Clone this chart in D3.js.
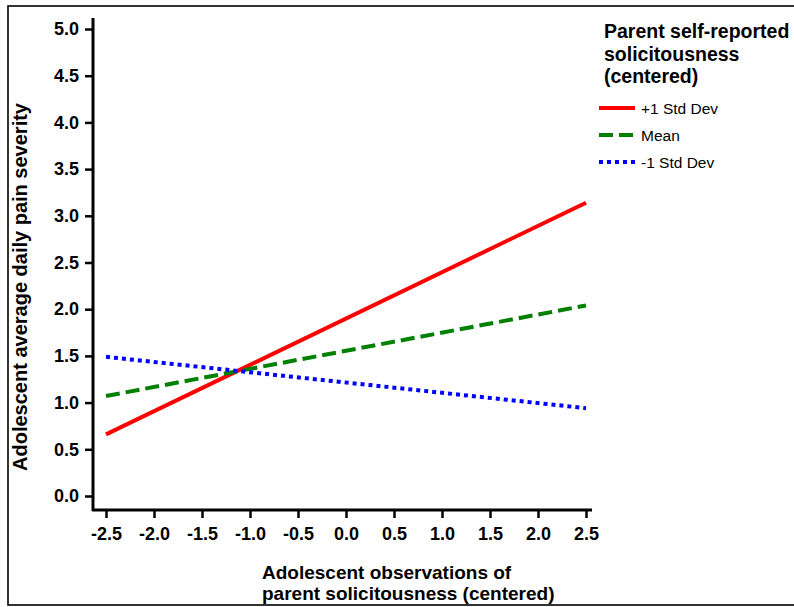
<!DOCTYPE html>
<html>
<head>
<meta charset="utf-8">
<script src="https://cdn.jsdelivr.net/npm/d3@7"></script>
<style>
  html, body { margin: 0; padding: 0; background: #fff; }
  svg { display: block; }
  text { font-family: "Liberation Sans", Arial, sans-serif; }
</style>
</head>
<body>
<svg id="chart" width="794" height="607"></svg>
<script>
// ---- data ----
const xEnds = [-2.5, 2.5];
const seriesNames = ["+1 Std Dev", "Mean", "-1 Std Dev"];
const plusOneSD = [0.66, 3.14];
const meanLine = [1.07, 2.04];
const minusOneSD = [1.49, 0.94];
const xTicks = [-2.5, -2.0, -1.5, -1.0, -0.5, 0.0, 0.5, 1.0, 1.5, 2.0, 2.5];
const yTicks = [0.0, 0.5, 1.0, 1.5, 2.0, 2.5, 3.0, 3.5, 4.0, 4.5, 5.0];
const legendTitle = ["Parent self-reported", "solicitousness", "(centered)"];
const xTitle = ["Adolescent observations of", "parent solicitousness (centered)"];
const yTitle = "Adolescent average daily pain severity";

const svg = d3.select("#chart");
const fmt = d => d.toFixed(1);

// frame
svg.append("rect").attr("x", 8).attr("y", 6).attr("width", 800).attr("height", 599)
  .attr("fill", "none").attr("stroke", "#000").attr("stroke-width", 1.6);

const x = d3.scaleLinear().domain([-2.5, 2.5]).range([106, 586]);
const y = d3.scaleLinear().domain([0, 5]).range([496, 29]);

// y axis
const yAxis = d3.axisLeft(y).tickValues(yTicks).tickFormat(fmt).tickSize(8).tickSizeOuter(0).tickPadding(6);
const gy = svg.append("g").attr("transform", "translate(93,0)").call(yAxis);
gy.select(".domain").remove();
gy.append("line").attr("x1", 0).attr("x2", 0).attr("y1", 18).attr("y2", 511)
  .attr("stroke", "#000").attr("stroke-width", 3);
gy.selectAll(".tick line").attr("stroke-width", 2.5);
gy.selectAll(".tick text").attr("font-size", 18).attr("font-weight", "bold").attr("fill", "#000")
  .attr("font-family", "'Liberation Sans', Arial, sans-serif");

// x axis
const xAxis = d3.axisBottom(x).tickValues(xTicks).tickFormat(fmt).tickSize(8).tickSizeOuter(0).tickPadding(9);
const gx = svg.append("g").attr("transform", "translate(0,510)").call(xAxis);
gx.select(".domain").remove();
gx.append("line").attr("x1", 92).attr("x2", 592).attr("y1", 0).attr("y2", 0)
  .attr("stroke", "#000").attr("stroke-width", 3);
gx.selectAll(".tick line").attr("stroke-width", 2.5);
gx.selectAll(".tick text").attr("font-size", 18).attr("font-weight", "bold").attr("fill", "#000")
  .attr("font-family", "'Liberation Sans', Arial, sans-serif");

// lines
const series = [
  { name: seriesNames[0], values: plusOneSD, color: "#ff0000", dash: null },
  { name: seriesNames[1], values: meanLine, color: "#008000", dash: "14,6" },
  { name: seriesNames[2], values: minusOneSD, color: "#0000ff", dash: "4,4" }
];
const line = d3.line().x(d => x(d[0])).y(d => y(d[1]));
series.forEach(s => {
  svg.append("path")
    .datum(xEnds.map((xv, i) => [xv, s.values[i]]))
    .attr("d", line)
    .attr("fill", "none")
    .attr("stroke", s.color)
    .attr("stroke-width", 4)
    .attr("stroke-dasharray", s.dash);
});

// axis titles
const xt = svg.append("text").attr("font-size", 19).attr("font-weight", "bold").attr("fill", "#000");
xTitle.forEach((t, i) => xt.append("tspan").attr("x", 262).attr("y", 579 + i * 21).text(t));

svg.append("text").attr("font-size", 20).attr("font-weight", "bold").attr("fill", "#000")
  .attr("text-anchor", "middle")
  .attr("transform", "translate(27,287) rotate(-90)")
  .text(yTitle);

// legend
const lt = svg.append("text").attr("font-size", 19.5).attr("font-weight", "bold").attr("fill", "#000");
legendTitle.forEach((t, i) => lt.append("tspan").attr("x", 604).attr("y", 38 + i * 22.5).text(t));

series.forEach((s, i) => {
  const yy = 108 + i * 27;
  svg.append("line").attr("x1", 599).attr("x2", 635).attr("y1", yy).attr("y2", yy)
    .attr("stroke", s.color).attr("stroke-width", 4).attr("stroke-dasharray", s.dash);
  svg.append("text").attr("x", 641).attr("y", yy + 5.5).attr("font-size", 15.5).attr("fill", "#000")
    .text(s.name);
});
</script>
</body>
</html>
